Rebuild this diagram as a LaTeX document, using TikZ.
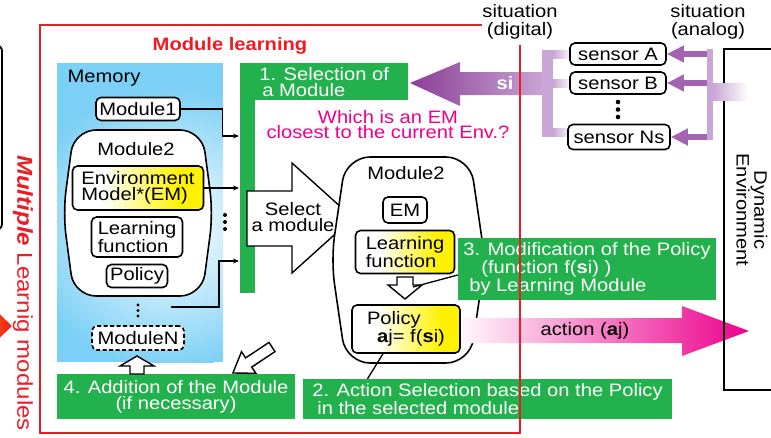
\documentclass[tikz,border=0pt]{standalone}
\usepackage{fontspec}
\setmainfont{Liberation Sans}[FakeStretch=1.12]
\usetikzlibrary{arrows.meta,positioning}
\definecolor{grn}{RGB}{34,177,76}
\definecolor{rd}{RGB}{237,28,36}
\definecolor{mag}{RGB}{236,0,140}
\definecolor{pur}{RGB}{139,62,150}
\definecolor{purm}{RGB}{165,100,178}
\definecolor{purl}{RGB}{201,166,213}
\definecolor{sky}{RGB}{125,208,245}
\definecolor{yel}{RGB}{255,242,0}
\pgfdeclarehorizontalshading{wy}{100bp}{color(0bp)=(white); color(37bp)=(white); color(66bp)=(yel); color(100bp)=(yel)}
\tikzset{
  mbox/.style={draw, line width=1.6pt, rounded corners=5pt, inner sep=2pt, align=left},
  wbox/.style={mbox, fill=white},
  ybox/.style={mbox, shade, shading=wy},
  gbox/.style={fill=grn, text=white, inner sep=3pt},
  conn/.style={line width=1.3pt, -{Stealth[length=6pt,width=5pt]}},
  hollow/.style={draw, line width=1.4pt, fill=white, line join=miter},
}

\begin{document}
\begin{tikzpicture}[x=1pt,y=-1pt,font=\fontsize{18}{16}\selectfont]
\useasboundingbox (0,0) rectangle (771,437);

\draw[line width=1.8pt, rounded corners=6pt] (-20,45) -- (2,45) -- (2,230) -- (-20,230);
\shade[left color=orange!70!red, right color=rd] (-12,303) -- (12,326) -- (-12,349) -- cycle;
\node[rotate=-90, text=rd, font=\fontsize{21.5}{20}\selectfont] (multi) at (23,293) {\textbf{\textit{Multiple}} Learnig modules};

\coordinate (memnw) at (57,63);
\coordinate (memse) at (223,362);
\begin{scope}
\clip (memnw) rectangle (memse);
\fill[sky] (memnw) rectangle (memse);
\shade[inner color=white, outer color=sky] (172,228) ellipse [x radius=150, y radius=140];
\end{scope}
\node[anchor=west] (memlbl) at (64,78) {Memory};
\node[wbox, minimum width=84pt, minimum height=23pt] (mod1) at (138,109) {Module1};
\draw[line width=1.6pt, fill=white, rounded corners=22pt] (74,130) -- (202,130) -- (213,213) -- (202,296) -- (74,296) -- (63,213) -- cycle;
\node (m2a) at (136,149) {Module2};
\node[ybox, minimum width=131pt, minimum height=44pt] (em) at (138,188) {Environment\\Model*(EM)};
\node[wbox, minimum width=91pt, minimum height=40pt] (lf) at (137,237) {Learning\\function};
\node[wbox, minimum width=61pt, minimum height=23pt] (pol) at (137,276) {Policy};
\foreach \d in {305,310.5,316} \fill (138,\d) circle (1.6);
\node[wbox, dash pattern=on 4pt off 2.5pt, minimum width=92pt, minimum height=24pt] (modN) at (138,338) {ModuleN};

\node[gbox, anchor=north west, minimum width=168pt, minimum height=37pt, align=left] (sel) at (240,63) {1. Selection of\\\hspace{3pt}a Module};
\fill[grn] (sel.south west) rectangle ++(15,193);
\coordinate (in1) at (239,136);
\coordinate (in2) at (239,188);
\coordinate (in3) at (239,261);
\coordinate (outN) at (171,307);
\draw[conn] (mod1.east) -- ++(42,0) |- (in1);
\draw[conn] (em.east) -- (in2);
\draw[conn] (outN) -- ++(48,0) |- (in3);
\foreach \d in {215,222,229} \fill (225,\d) circle (2);

\draw[hollow] (247,191) -- (292,191) -- (292,163) -- (353,218) -- (292,273) -- (292,246) -- (247,246) -- cycle;
\node[align=center] (selmod) at (293,217) {Select\\a module};

\node[text=rd, font=\fontsize{18}{16}\selectfont\bfseries] (mltitle) at (230,46) {Module learning};
\node[text=mag, align=center, font=\fontsize{18}{15}\selectfont] (ques) at (388,125) {Which is an EM\\closest to the current Env.?};

\draw[line width=1.6pt, fill=white, rounded corners=24pt] (346,157) -- (470,157) -- (485,260) -- (470,363) -- (346,363) -- (331,260) -- cycle;
\node (m2b) at (406,173) {Module2};
\node[wbox, minimum width=44pt, minimum height=26pt] (em2) at (405,210) {EM};
\node[ybox, minimum width=99pt, minimum height=43pt] (lf2) at (405,252) {Learning\\function};
\draw[hollow] (397,277) -- (413,277) -- (413,285) -- (422,285) -- (405,299) -- (388,285) -- (397,285) -- cycle;
\coordinate (harr) at (413,287);

\shade[left color=white, right color=mag] (452,318) -- (682,318) -- (682,306) -- (749,331) -- (682,356) -- (682,343) -- (452,343) -- cycle;
\node (act) at (585,331) {action (\textbf{a}j)};
\node[ybox, minimum width=108pt, minimum height=48pt, font=\fontsize{18}{18}\selectfont] (pol2) at (406,329) {Policy\\\hspace{10pt}\textbf{a}j= f(\textbf{s}i)};

\node[gbox, minimum width=258pt, minimum height=62pt, align=left, font=\fontsize{18}{15}\selectfont] (modif) at (587,269) {3. Modification of the Policy\\\hspace{18pt}(function f(\textbf{s}i) )\\\hspace{6pt}by Learning Module};
\draw[line width=1.3pt] ([yshift=-6pt]modif.west) -- (harr);

\node[gbox, minimum width=369pt, minimum height=40pt, align=left] (asel) at (487.5,399) {2. Action Selection based on the Policy\\\hspace{5pt}in the selected module};
\draw[line width=1.3pt] ([xshift=-23pt]pol2.south) -- ([xshift=-120pt]asel.north);

\node[gbox, minimum width=238pt, minimum height=45pt, align=center] (add) at (176,396.5) {4. Addition of the Module\\(if necessary)};
\draw[hollow] (130,374) -- (130,366) -- (120,366) -- (137,356) -- (154,366) -- (144,366) -- (144,374) -- cycle;
\draw[hollow] (269.0,342.4) -- (245.6,357.9) -- (241.5,351.7) -- (232.9,373.0) -- (255.9,373.3) -- (251.7,367.1) -- (275.0,351.6) -- cycle;

\shade[left color=pur, right color=purl] (410,83) -- (460,62) -- (460,72) -- (545,72) -- (545,95) -- (460,95) -- (460,106) -- cycle;
\node[text=white, font=\fontsize{18}{16}\selectfont\bfseries] (si) at (505,83) {si};
\fill[purl] (542,50) rectangle (553,137);
\foreach \y in {50,79,128} \shade[left color=purl, right color=white] (553,\y) rectangle (572,\y+8);
\node[wbox, minimum width=96pt, minimum height=22pt] (sA) at (618,54) {sensor A};
\node[wbox, minimum width=96pt, minimum height=22pt] (sB) at (618,83) {sensor B};
\foreach \d in {102,109.5,117} \fill (618,\d) circle (2.3);
\node[wbox, minimum width=102pt, minimum height=25pt] (sN) at (619,137) {sensor Ns};

\node[draw, line width=2pt, anchor=north west, minimum width=80pt, minimum height=341pt] (env) at (723,48) {};
\node[rotate=-90, align=center] (envlbl) at (752,210) {Dynamic\\Environment};
\coordinate (rb) at (710,95);
\foreach \s in {sA,sB,sN} \draw[line width=6pt, purm, -{Triangle[length=17pt,width=16pt]}] (\s.east -| rb) -- (\s.east);
\fill[purl] (707,49) rectangle (713,140);
\shade[left color=purl, right color=white] (713,83) rectangle (748,100);

\node[align=center, font=\fontsize{18}{18}\selectfont] (sitd) at (520,22) {situation\\(digital)};
\node[align=center, font=\fontsize{18}{18}\selectfont] (sita) at (708,22) {situation\\(analog)};

\draw[rd, line width=2pt] (482,25) -- (40,25) -- (40,433) -- (520,433) -- (520,45);
\end{tikzpicture}
\end{document}
